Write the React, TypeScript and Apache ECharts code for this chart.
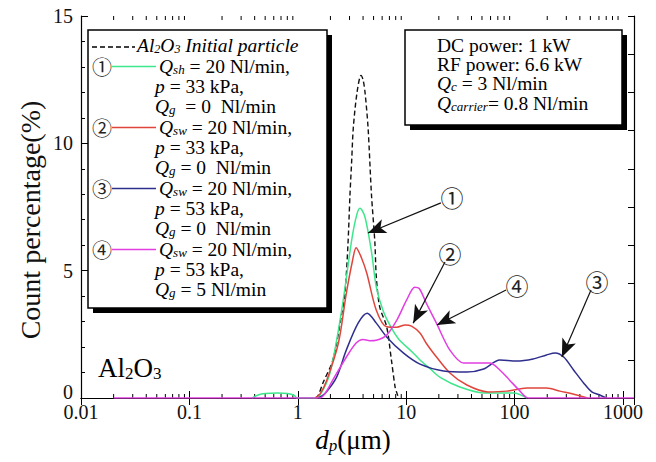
import React, { useEffect, useRef } from "react";
import * as echarts from "echarts";

// ---- data (diameter in µm, count percentage) ----
const initialParticle: [number, number][] = [
  [1.45, 0], [1.54, 0.1], [1.71, 0.6], [2.11, 1.5], [2.54, 3.3], [2.72, 4.1], [2.9, 6.0], [3.03, 8.0],
  [3.14, 9.3], [3.25, 10.6], [3.52, 12.0], [3.83, 12.67], [4.0, 12.5], [4.17, 12.0], [4.45, 10.6],
  [4.78, 8.0], [5.14, 6.1], [5.3, 4.75], [5.7, 3.57], [6.6, 2.8], [7.3, 1.5], [7.9, 0.43], [8.2, 0.2], [8.5, 0],
];
const series1: [number, number][] = [
  [0.38, 0], [0.43, 0.12], [0.5, 0.18], [0.65, 0.2], [0.8, 0.18], [0.93, 0.1], [0.98, 0], [1.45, 0],
  [1.6, 0.1], [1.98, 0.98], [2.54, 3.45], [3.14, 6.2], [3.5, 7.2], [3.75, 7.45], [4.17, 7.1], [4.8, 5.7],
  [5.3, 4.35], [6.1, 3.45], [7.2, 2.8], [8.5, 2.32], [11.6, 1.77], [13.4, 1.49], [16.6, 1.15], [20.4, 0.82],
  [31.3, 0.43], [51.8, 0.2], [98, 0.2], [130, 0],
];
const series2: [number, number][] = [
  [1.45, 0], [1.6, 0.15], [1.85, 0.7], [2.37, 2.16], [2.8, 4.1], [3.2, 5.4], [3.45, 5.9], [3.87, 5.5],
  [4.33, 4.9], [5.3, 3.45], [6.6, 2.8], [8.2, 2.78], [9.8, 2.87], [11.2, 2.82], [13.4, 2.55], [15.3, 2.15],
  [17.8, 1.77], [25.3, 0.98], [36.3, 0.51], [56.6, 0.24], [85, 0.27], [130, 0.39], [197, 0.39], [262, 0.27],
  [374, 0.12], [470, 0],
];
const series3: [number, number][] = [
  [1.55, 0], [1.8, 0.2], [2.28, 0.82], [2.8, 1.88], [3.6, 2.94], [4.37, 3.33], [5.3, 2.94], [6.6, 2.4],
  [9.4, 1.77], [13.4, 1.33], [22.1, 1.06], [36.3, 1.02], [51.8, 1.14], [73, 1.49], [104, 1.45], [148, 1.53],
  [197, 1.69], [237, 1.77], [284, 1.61], [350, 1.1], [433, 0.59], [515, 0.24], [610, 0.12], [700, 0],
];
const series4: [number, number][] = [
  [0.02, 0], [1.6, 0], [1.8, 0.2], [2.1, 0.7], [2.8, 1.6], [3.45, 2.16], [4.0, 2.3], [4.6, 2.25], [5.3, 2.27],
  [6.6, 2.47], [8.2, 3.06], [10.1, 3.85], [12.0, 4.35], [13.2, 4.3], [15.3, 3.73], [19.0, 2.94], [25.3, 1.88],
  [34, 1.37], [48, 1.37], [59, 1.37], [73, 1.1], [90, 0.7], [110, 0.31], [134, 0], [1260, 0],
];

const xTickLabels = ["0.01", "0.1", "1", "10", "100", "1000"];
const yTickLabels = ["0", "5", "10", "15"];

// arrows: from circled label to curve (data coordinates)
const arrowFrom: [number, number][] = [[20.9, 7.66], [22.8, 5.34], [507, 4.24], [83.4, 4.24]];
const arrowTo: [number, number][] = [[4.44, 6.48], [11.6, 2.94], [273, 1.61], [19.2, 2.87]];
const arrowMarks = ["①", "②", "③", "④"];

const legendTitle = "{i|Al}{is|2}{i|O}{is|3}{i| Initial particle}";
const legendLines: string[][] = [
  ["{q|Q}{s|sh}{n| = 20 Nl/min,}", "{q|p}{n| = 33 kPa,}", "{q|Q}{s|g}{n|  = 0  Nl/min}"],
  ["{q|Q}{s|sw}{n| = 20 Nl/min,}", "{q|p}{n| = 33 kPa,}", "{q|Q}{s|g}{n| = 0  Nl/min}"],
  ["{q|Q}{s|sw}{n| = 20 Nl/min,}", "{q|p}{n| = 53 kPa,}", "{q|Q}{s|g}{n| = 0  Nl/min}"],
  ["{q|Q}{s|sw}{n| = 20 Nl/min,}", "{q|p}{n| = 53 kPa,}", "{q|Q}{s|g}{n| = 5 Nl/min}"],
];
const infoLines = [
  "{n|DC power: 1 kW}",
  "{n|RF power: 6.6 kW}",
  "{q|Q}{s|c}{n| = 3 Nl/min}",
  "{q|Q}{s|carrier}{n|= 0.8 Nl/min}",
];

const COLORS = ["#3ee68c", "#e0453c", "#2e2e8e", "#e23ee2"];
const FONT = '"Liberation Serif", "Times New Roman", serif';
const CJK = '"Noto Sans CJK JP", "Noto Sans CJK SC", sans-serif';

const minorTickValues: [number, number][] = [];
for (let e = -2; e <= 2; e++) for (let m = 2; m <= 9; m++) minorTickValues.push([m * Math.pow(10, e), 0]);

const richBase = (size: number, sub: number) => ({
  n: { fontFamily: FONT, fontSize: size, color: "#111", lineHeight: size },
  q: { fontFamily: FONT, fontSize: size, fontStyle: "italic", color: "#111", lineHeight: size },
  s: { fontFamily: FONT, fontSize: sub, fontStyle: "italic", color: "#111", verticalAlign: "bottom", lineHeight: 9 },
  i: { fontFamily: FONT, fontSize: size, fontStyle: "italic", color: "#111", lineHeight: size },
  is: { fontFamily: FONT, fontSize: sub, fontStyle: "italic", color: "#111", verticalAlign: "bottom", lineHeight: 9 },
});

function buildGraphics() {
  const g: any[] = [];
  // legend box
  const lb = { x: 88, y: 30, w: 239, h: 278 };
  g.push({ type: "rect", z: 100, shape: { x: lb.x + 5, y: lb.y + 5, width: lb.w, height: lb.h }, style: { fill: "#000" } });
  g.push({ type: "rect", z: 101, shape: { x: lb.x, y: lb.y, width: lb.w, height: lb.h }, style: { fill: "#fff", stroke: "#000", lineWidth: 1.5 } });
  g.push({ type: "line", z: 102, shape: { x1: 92, y1: 47, x2: 135, y2: 47 }, style: { stroke: "#000", lineWidth: 1.3, lineDash: [5, 3] } });
  g.push({ type: "text", z: 102, x: 137, y: 45.5, style: { text: legendTitle, rich: richBase(19.5, 12), textVerticalAlign: "middle", fontFamily: FONT, fontSize: 19.5 } });
  legendLines.forEach((lines, gi) => {
    const base = 66.5 + gi * 61;
    g.push({ type: "text", z: 102, x: 102, y: base, style: { text: arrowMarks[gi], fontFamily: CJK, fontSize: 20, fill: "#222", textAlign: "center", textVerticalAlign: "middle" } });
    g.push({ type: "line", z: 102, shape: { x1: 112, y1: base, x2: 156, y2: base }, style: { stroke: COLORS[gi], lineWidth: 1.6 } });
    lines.forEach((t, li) => {
      g.push({ type: "text", z: 102, x: li === 0 ? 159 : 155, y: base + li * 20, style: { text: t, rich: richBase(19.5, 13), textVerticalAlign: "middle", fontFamily: FONT, fontSize: 19.5 } });
    });
  });
  // info box
  const ib = { x: 405, y: 30, w: 217, h: 95 };
  g.push({ type: "rect", z: 100, shape: { x: ib.x + 5, y: ib.y + 5, width: ib.w, height: ib.h }, style: { fill: "#000" } });
  g.push({ type: "rect", z: 101, shape: { x: ib.x, y: ib.y, width: ib.w, height: ib.h }, style: { fill: "#fff", stroke: "#000", lineWidth: 1.5 } });
  const infoY = [45, 64, 83, 103];
  infoLines.forEach((t, i) => {
    g.push({ type: "text", z: 102, x: 437, y: infoY[i], style: { text: t, rich: richBase(19.5, 13), textVerticalAlign: "middle", fontFamily: FONT, fontSize: 19.5 } });
  });
  // circled annotation marks
  const markPos = [[452, 197], [450, 253], [597, 281], [517, 285]];
  markPos.forEach((p, i) => {
    g.push({ type: "text", z: 102, x: p[0], y: p[1], style: { text: arrowMarks[i], fontFamily: CJK, fontSize: 23, fill: "#222", textAlign: "center", textVerticalAlign: "middle" } });
  });
  // Al2O3 label
  g.push({ type: "text", z: 102, x: 98, y: 368, style: { text: "{n|Al}{s|2}{n|O}{s|3}", rich: { n: { fontFamily: FONT, fontSize: 27, color: "#111" }, s: { fontFamily: FONT, fontSize: 17, color: "#111", verticalAlign: "bottom", lineHeight: 12 } }, textVerticalAlign: "middle", fontFamily: FONT, fontSize: 27 } });
  // axis titles
  g.push({ type: "text", z: 102, x: 30, y: 220, rotation: Math.PI / 2, style: { text: "Count percentage(%)", fontFamily: FONT, fontSize: 28, fill: "#111", textAlign: "center", textVerticalAlign: "middle" } });
  g.push({ type: "text", z: 102, x: 353, y: 440, style: { text: "{i|d}{s|p}{n|(μm)}", rich: { n: { fontFamily: FONT, fontSize: 27, color: "#111" }, i: { fontFamily: FONT, fontSize: 27, fontStyle: "italic", color: "#111" }, s: { fontFamily: FONT, fontSize: 17, fontStyle: "italic", color: "#111", verticalAlign: "bottom", lineHeight: 12 } }, textAlign: "center", textVerticalAlign: "middle", fontFamily: FONT, fontSize: 27 } });
  return g;
}

const xFormatter = (v: number) => {
  const l = Math.log10(v);
  const r = Math.round(l);
  if (Math.abs(l - r) > 1e-6) return "";
  return xTickLabels[r + 2] ?? "";
};

const yFormatter = (v: number) => {
  const label = yTickLabels[Math.round(v / 5)] ?? "";
  return v === 0 ? `{z|${label}}` : label;
};

export default function App() {
  const ref = useRef<HTMLDivElement>(null);
  useEffect(() => {
    document.body.style.margin = "0";
    if (!ref.current) return;
    const chart = echarts.init(ref.current, null, { renderer: "svg" });
    const axisLine = { show: true, lineStyle: { color: "#000", width: 1.2 } };
    const lineSeries = (data: [number, number][], color: string, extra: any = {}) => ({
      type: "line",
      data,
      smooth: 0.3,
      symbol: "none",
      lineStyle: { color, width: 1.5, ...(extra.lineStyle || {}) },
      itemStyle: { color },
      xAxisIndex: 0,
      yAxisIndex: 0,
      z: 3,
      ...extra.rest,
    });
    const option: any = {
      animation: false,
      backgroundColor: "#fff",
      grid: { left: 81, right: 22, top: 16, bottom: 64, containLabel: false },
      xAxis: [
        {
          type: "log", logBase: 10, min: 0.01, max: 1263, position: "bottom",
          axisLine, splitLine: { show: false },
          axisTick: { show: true, inside: true, length: 7, lineStyle: { color: "#000" } },
          axisLabel: { show: true, formatter: xFormatter, fontFamily: FONT, fontSize: 20, color: "#111", margin: 4 },
        },
        {
          type: "log", logBase: 10, min: 0.01, max: 1263, position: "top",
          axisLine, splitLine: { show: false },
          axisTick: { show: true, inside: true, length: 7, lineStyle: { color: "#000" } },
          axisLabel: { show: false },
        },
      ],
      yAxis: [
        {
          type: "value", min: 0, max: 15, interval: 5, position: "left",
          axisLine, splitLine: { show: false },
          axisTick: { show: true, inside: true, length: 7, lineStyle: { color: "#000" } },
          minorTick: { show: true, splitNumber: 5, length: 4, lineStyle: { color: "#000" } },
          axisLabel: {
            formatter: yFormatter, fontFamily: FONT, fontSize: 20, color: "#111", margin: 8,
            rich: { z: { fontFamily: FONT, fontSize: 20, color: "#111", padding: [0, 0, 12, 0] } },
          },
        },
        {
          type: "value", min: 0, max: 15, interval: 1.5, position: "right",
          axisLine, splitLine: { show: false },
          axisTick: { show: true, inside: true, length: 6, lineStyle: { color: "#000" } },
          axisLabel: { show: false },
        },
      ],
      series: [
        {
          type: "custom",
          xAxisIndex: 0,
          yAxisIndex: 0,
          data: minorTickValues,
          clip: false,
          silent: true,
          renderItem: (params: any, api: any) => {
            const x = api.coord([api.value(0), 0])[0];
            const cs = params.coordSys;
            const top = cs.y;
            const bottom = cs.y + cs.height;
            return {
              type: "group",
              children: [
                { type: "line", shape: { x1: x, y1: bottom, x2: x, y2: bottom - 4 }, style: { stroke: "#000", lineWidth: 1 } },
                { type: "line", shape: { x1: x, y1: top, x2: x, y2: top + 4 }, style: { stroke: "#000", lineWidth: 1 } },
              ],
            };
          },
        },
        lineSeries(initialParticle, "#111", {
          lineStyle: { type: [5, 3], width: 1.4 },
          rest: {
            markLine: {
              silent: true,
              animation: false,
              symbol: ["none", "arrow"],
              symbolSize: [0, 15],
              lineStyle: { color: "#111", width: 1.2, type: "solid" },
              label: { show: false },
              data: arrowFrom.map((f, i) => [
                { coord: f, symbol: "none" },
                { coord: arrowTo[i], symbol: "arrow", symbolSize: [11, 18] },
              ]),
            },
          },
        }),
        lineSeries(series1, COLORS[0]),
        lineSeries(series2, COLORS[1]),
        lineSeries(series3, COLORS[2]),
        lineSeries(series4, COLORS[3]),
      ],
      graphic: buildGraphics(),
    };
    chart.setOption(option);
    return () => chart.dispose();
  }, []);
  return <div ref={ref} style={{ width: 656, height: 462 }} />;
}
